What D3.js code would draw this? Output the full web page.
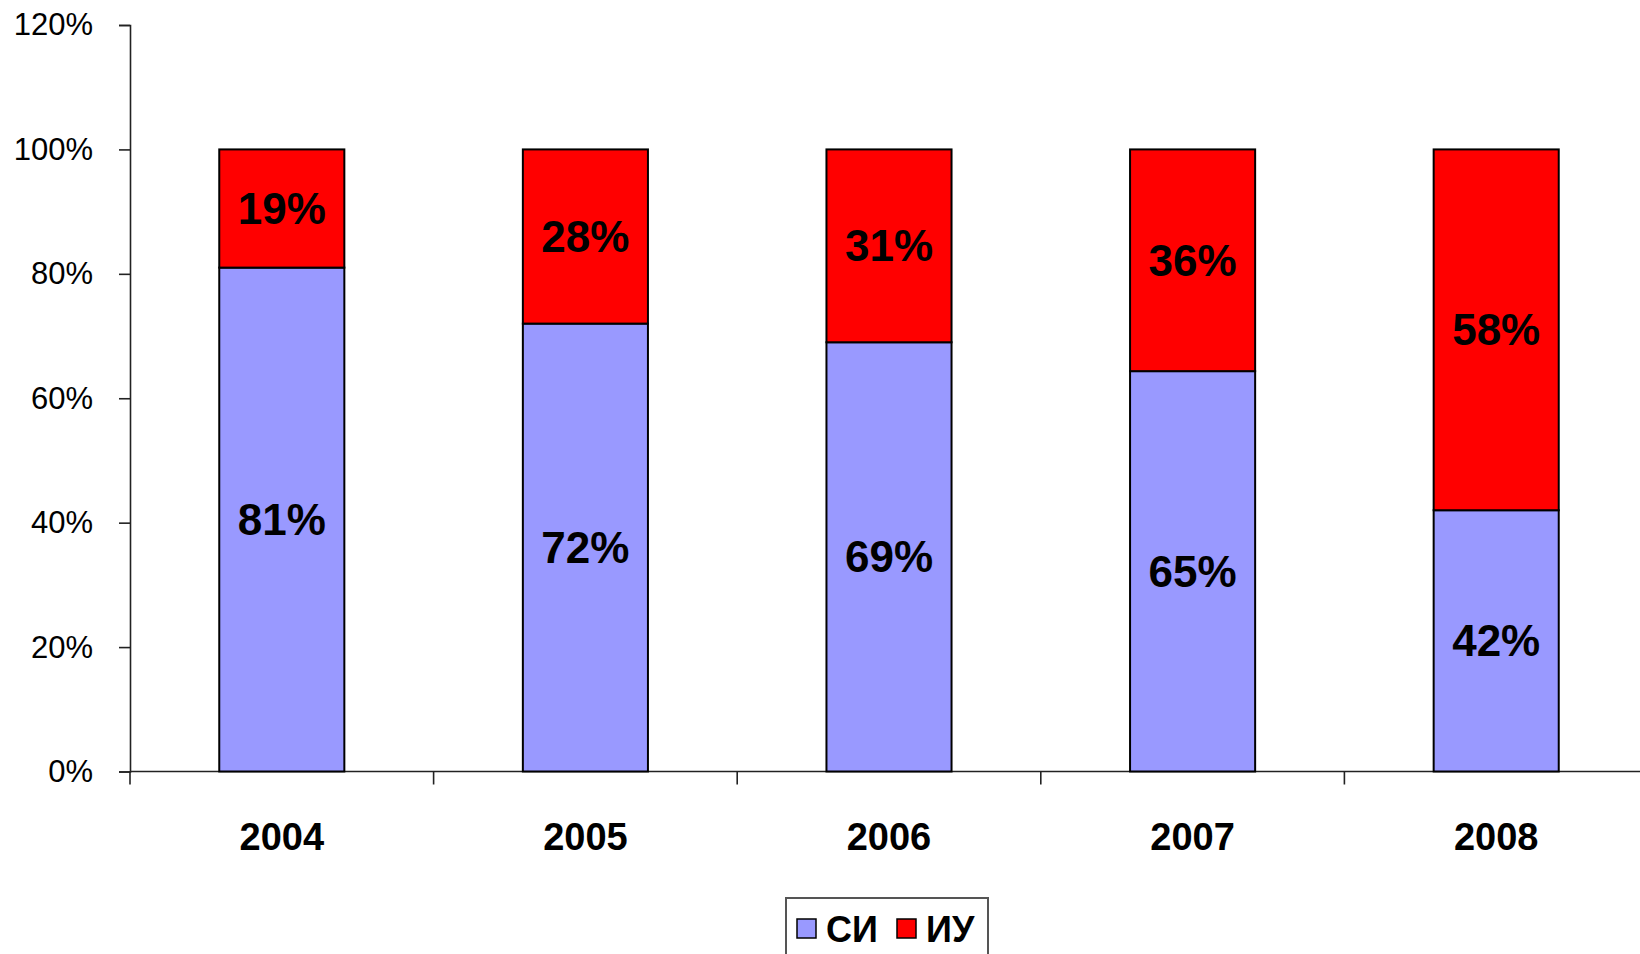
<!DOCTYPE html>
<html>
<head>
<meta charset="utf-8">
<script src="https://cdn.jsdelivr.net/npm/d3@7"></script>
<style>
  html, body { margin: 0; padding: 0; background: #fff; }
  svg { display: block; font-family: "Liberation Sans", Arial, sans-serif; }
</style>
</head>
<body>
<svg id="chart" width="1640" height="954"></svg>
<script>
// Share of each group per year, percent
const years = ["2004", "2005", "2006", "2007", "2008"];
const siValues = [81, 72, 69, 65, 42];
const iuValues = [19, 28, 31, 36, 58];
const seriesNames = ["СИ", "ИУ"];
const seriesColors = ["#9999ff", "#ff0000"];
const yTicks = [0, 20, 40, 60, 80, 100, 120];

const svg = d3.select("#chart");
const plotLeft = 130, plotRight = 1648, plotTop = 25, plotBottom = 771.5;

const x = d3.scaleBand().domain(years).range([plotLeft, plotRight])
  .paddingInner(0.588).paddingOuter(0.294);
const y = d3.scaleLinear().domain([0, 120]).range([plotBottom, plotTop]);

const rows = years.map((yr, i) => ({ year: yr, "СИ": siValues[i], "ИУ": iuValues[i] }));
// 100% stacked: each column is normalised to its total
const stacked = d3.stack().keys(seriesNames).offset(d3.stackOffsetExpand)(rows);

// Y axis
const yAxis = svg.append("g")
  .attr("transform", `translate(${plotLeft},0)`)
  .call(d3.axisLeft(y).tickValues(yTicks).tickSize(11).tickPadding(26)
    .tickFormat(d => d + "%"));
yAxis.select(".domain").attr("stroke", "#222").attr("stroke-width", 1.6);
yAxis.selectAll(".tick line").attr("stroke", "#222").attr("stroke-width", 1.6);
yAxis.selectAll(".tick text").attr("font-size", 31).attr("fill", "#000")
  .attr("font-family", "'Liberation Sans', Arial, sans-serif");

// X axis baseline with category separators
const xAxis = svg.append("g");
xAxis.append("line")
  .attr("x1", plotLeft).attr("x2", 1640).attr("y1", plotBottom).attr("y2", plotBottom)
  .attr("stroke", "#222").attr("stroke-width", 1.6);
const step = x.step();
const seps = d3.range(years.length).map(i => plotLeft + i * step);
xAxis.selectAll("line.sep").data(seps).join("line")
  .attr("class", "sep")
  .attr("x1", d => d).attr("x2", d => d)
  .attr("y1", plotBottom).attr("y2", plotBottom + 13)
  .attr("stroke", "#222").attr("stroke-width", 1.6);
xAxis.selectAll("text").data(years).join("text")
  .attr("x", d => x(d) + x.bandwidth() / 2)
  .attr("y", 837)
  .attr("text-anchor", "middle")
  .attr("dominant-baseline", "central")
  .attr("font-size", 38).attr("font-weight", "bold")
  .text(d => d);

// Stacked bars
const layers = svg.append("g").selectAll("g").data(stacked).join("g")
  .attr("fill", (d, i) => seriesColors[i]);
layers.selectAll("rect").data(d => d).join("rect")
  .attr("x", d => x(d.data.year))
  .attr("width", x.bandwidth())
  .attr("y", d => y(d[1] * 100))
  .attr("height", d => y(d[0] * 100) - y(d[1] * 100))
  .attr("stroke", "#000").attr("stroke-width", 2);

// Value labels centred in each segment
layers.selectAll("text").data(d => d.map(v => ({ v, key: d.key }))).join("text")
  .attr("x", d => x(d.v.data.year) + x.bandwidth() / 2)
  .attr("y", d => (y(d.v[0] * 100) + y(d.v[1] * 100)) / 2)
  .attr("text-anchor", "middle")
  .attr("dominant-baseline", "central")
  .attr("font-size", 44).attr("font-weight", "bold").attr("fill", "#000")
  .text(d => d.v.data[d.key] + "%");

// Legend
const lg = svg.append("g");
lg.append("rect").attr("x", 786).attr("y", 898).attr("width", 202).attr("height", 70)
  .attr("fill", "#fff").attr("stroke", "#555").attr("stroke-width", 2);
const legendItems = [
  { name: seriesNames[0], color: seriesColors[0], sx: 797, tx: 826 },
  { name: seriesNames[1], color: seriesColors[1], sx: 897, tx: 926 }
];
legendItems.forEach(it => {
  lg.append("rect").attr("x", it.sx).attr("y", 919).attr("width", 19).attr("height", 19)
    .attr("fill", it.color).attr("stroke", "#000").attr("stroke-width", 1.5);
  lg.append("text").attr("x", it.tx).attr("y", 929)
    .attr("dominant-baseline", "central")
    .attr("font-size", 36).attr("font-weight", "bold")
    .text(it.name);
});
</script>
</body>
</html>
